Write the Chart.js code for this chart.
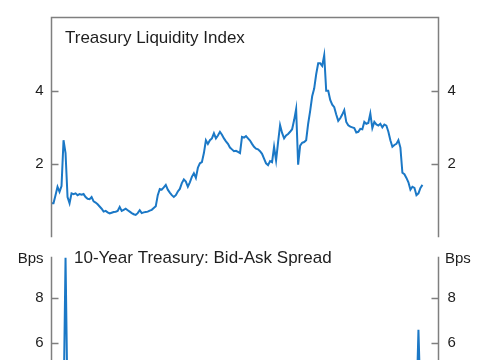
<!DOCTYPE html>
<html><head><meta charset="utf-8">
<script src="https://cdn.jsdelivr.net/npm/chart.js@4.4.1/dist/chart.umd.min.js"></script>
<style>
html,body{margin:0;padding:0;background:#fff;overflow:hidden;width:485px;height:360px}
#wrap{position:relative;width:485px;height:360px;overflow:hidden;background:#fff}
#c1{position:absolute;left:0;top:-10px}
#c2{position:absolute;left:0;top:230px}
</style></head><body>
<div id="wrap"><canvas id="c1" width="485" height="270"></canvas><canvas id="c2" width="485" height="270"></canvas></div>
<script>
// ---- data ----
const topTitle = 'Treasury Liquidity Index';
const bottomTitle = '10-Year Treasury: Bid-Ask Spread';
const unitLabel = 'Bps';
const topTicks = [2, 4];
const bottomTicks = [0, 2, 4, 6, 8];
const liquidity = [
0.93,0.93,1.15,1.38,1.24,1.40,2.65,2.30,1.10,0.93,
1.20,1.18,1.20,1.15,1.18,1.16,1.18,1.10,1.05,1.04,
1.10,0.98,0.95,0.90,0.84,0.78,0.70,0.72,0.68,0.65,
0.67,0.69,0.70,0.72,0.83,0.72,0.75,0.78,0.74,0.70,
0.66,0.63,0.61,0.66,0.74,0.66,0.68,0.69,0.70,0.73,
0.75,0.80,0.85,1.15,1.32,1.30,1.36,1.43,1.30,1.22,
1.15,1.10,1.15,1.25,1.32,1.48,1.58,1.52,1.38,1.50,
1.65,1.75,1.62,1.90,2.02,2.05,2.30,2.65,2.55,2.65,
2.70,2.84,2.70,2.78,2.88,2.80,2.70,2.62,2.55,2.45,
2.40,2.35,2.36,2.33,2.30,2.74,2.72,2.76,2.70,2.64,
2.55,2.47,2.42,2.40,2.35,2.28,2.15,2.02,1.97,2.08,
2.05,2.47,2.10,2.60,3.06,2.85,2.70,2.78,2.82,2.88,
2.95,3.20,3.50,1.98,2.50,2.58,2.60,2.65,3.10,3.45,
3.85,4.06,4.45,4.75,4.75,4.68,4.97,4.00,4.00,3.75,
3.62,3.55,3.35,3.18,3.25,3.35,3.47,3.15,3.06,3.02,
3.00,2.98,2.86,2.88,2.96,2.95,3.15,3.10,3.12,3.38,
2.98,3.15,3.08,3.05,3.10,3.00,3.08,3.05,2.88,2.65,
2.47,2.52,2.55,2.65,2.45,1.76,1.72,1.62,1.50,1.30,
1.38,1.35,1.15,1.20,1.35,1.43
];
const weeks = liquidity.map((v, i) => i);
const spreadWeeks = [0,4,6,7,8,12,20,30,40,50,60,70,80,90,100,110,120,122,123,130,140,150,160,170,178,182,183,184,186];
const spreadBps   = [2.2,2.6,3.0,9.8,3.2,2.5,2.0,1.6,1.4,1.3,1.5,1.6,1.8,1.7,1.6,1.5,1.8,2.4,3.6,2.6,2.2,2.0,2.1,2.3,2.8,3.2,6.6,3.4,3.0];

// ---- styles ----
const BLUE = '#1b78c6';
const AXIS = '#7f7f7f';
const TXT = '#1e1e1e';
const FONT = "'Liberation Sans', Arial, sans-serif";

const framePlugin = {
  id: 'frame',
  afterDatasetsDraw(chart, args, o) {
    const { ctx, chartArea: a, scales } = chart;
    ctx.save();
    ctx.strokeStyle = AXIS;
    ctx.lineWidth = 1.5;
    ctx.beginPath();
    ctx.moveTo(a.left, a.bottom);
    ctx.lineTo(a.left, a.top);
    if (o.top) ctx.lineTo(a.right, a.top); else ctx.moveTo(a.right, a.top);
    ctx.lineTo(a.right, a.bottom);
    scales.y.ticks.forEach(t => {
      const py = Math.round(scales.y.getPixelForValue(t.value)) + 0.5;
      ctx.moveTo(a.left, py); ctx.lineTo(a.left + 7, py);
      ctx.moveTo(a.right - 7, py); ctx.lineTo(a.right, py);
    });
    ctx.stroke();
    ctx.fillStyle = TXT;
    ctx.font = '17px ' + FONT;
    ctx.textAlign = 'left';
    ctx.textBaseline = 'alphabetic';
    ctx.fillText(o.title, o.tx, o.ty);
    if (o.unit) {
      ctx.font = '15px ' + FONT;
      ctx.textBaseline = 'middle';
      ctx.textAlign = 'right';
      ctx.fillText(o.unit, a.left - 8, o.uy);
      ctx.textAlign = 'left';
      ctx.fillText(o.unit, a.right + 6.5, o.uy);
    }
    ctx.restore();
  }
};

function yAxis(pos, min, max, ticks, width, pad) {
  return {
    position: pos, min: min, max: max,
    grid: { display: false, drawTicks: false, tickLength: 0 }, border: { display: false },
    ticks: { padding: pad, color: TXT, font: { family: FONT, size: 15 }, callback: v => String(v) },
    afterBuildTicks(s) { s.ticks = ticks.map(v => ({ value: v })); },
    afterFit(s) { s.width = width; }
  };
}

function make(id, pts, yMin, yMax, ticks, padTop, padBottom, frame) {
  return new Chart(document.getElementById(id), {
    type: 'line',
    data: { datasets: [{ data: pts, borderColor: BLUE, borderWidth: 2, pointRadius: 0, tension: 0, fill: false }] },
    options: {
      responsive: false, animation: false, devicePixelRatio: 1,
      layout: { padding: { top: padTop, bottom: padBottom, left: 0, right: 0 } },
      plugins: { legend: { display: false }, tooltip: { enabled: false }, frame: frame },
      scales: {
        x: { type: 'linear', min: 0, max: 193, display: false },
        y: yAxis('left', yMin, yMax, ticks, 51.5, 8),
        y2: yAxis('right', yMin, yMax, ticks, 46.5, 9)
      }
    },
    plugins: [framePlugin]
  });
}

// top panel: canvas spans page y -10..260, plot area 17.5..237.3
make('c1', liquidity.map((v, i) => ({ x: weeks[i], y: v })), 0, 6, topTicks, 27.5, 22.7,
  { top: true, title: topTitle, tx: 65, ty: 52.5 });
// bottom panel: canvas spans page y 230..500, plot area 256.7..478.3
make('c2', spreadBps.map((v, i) => ({ x: spreadWeeks[i], y: v })), 0, 9.85, bottomTicks, 26.7, 21.7,
  { top: false, title: bottomTitle, tx: 74, ty: 33.3, unit: unitLabel, uy: 28.5 });
</script>
</body></html>
